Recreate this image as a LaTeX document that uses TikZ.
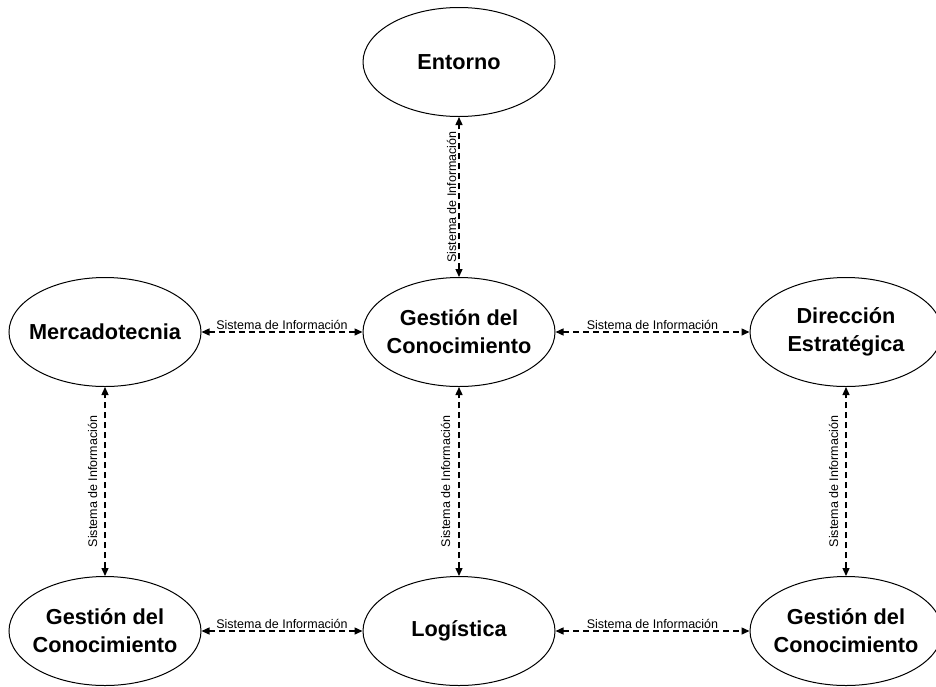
\documentclass[tikz,border=0pt]{standalone}
\usepackage{fontspec}
\setmainfont{Liberation Sans}
\usetikzlibrary{shapes.geometric,arrows.meta}
\begin{document}
\begin{tikzpicture}[x=1pt,y=-1pt,
  area/.style={draw, ellipse, line width=1pt, minimum width=192pt, minimum height=109pt,
    inner sep=0pt},
  areatitle/.style={align=center, inner sep=0pt,
    font=\fontsize{21.7pt}{28pt}\selectfont\bfseries},
  link/.style={draw, dashed, dash pattern=on 6pt off 4pt, line width=1.4pt,
    {Triangle[length=8pt,width=7pt]}-{Triangle[length=8pt,width=7pt]}},
  tag/.style={font=\fontsize{12.5pt}{14pt}\selectfont, inner sep=2pt}]
\useasboundingbox (0,0) rectangle (936,686);
% process areas: fixed-size ellipses with their titles set on top
\node[area] (ent) at (459,62) {};
\node[area] (mer) at (105,332) {};
\node[area] (gcm) at (459,332) {};
\node[area] (dir) at (846,332) {};
\node[area] (gcl) at (105,631) {};
\node[area] (log) at (459,631) {};
\node[area] (gcr) at (846,631) {};
\node[areatitle] (ent-t) at (ent) {Entorno};
\node[areatitle] (mer-t) at (mer) {Mercadotecnia};
\node[areatitle] (gcm-t) at (gcm) {Gestión del\\Conocimiento};
\node[areatitle] (dir-t) at (dir) {Dirección\\Estratégica};
\node[areatitle] (gcl-t) at (gcl) {Gestión del\\Conocimiento};
\node[areatitle] (log-t) at (log) {Logística};
\node[areatitle] (gcr-t) at (gcr) {Gestión del\\Conocimiento};
% information flows
\draw[link] (gcm) -- node[tag, sloped, above] (t1) {Sistema de Información} (ent);
\draw[link] (mer) -- node[tag, above] (t2) {Sistema de Información} (gcm);
\draw[link] (gcm) -- node[tag, above] (t3) {Sistema de Información} (dir);
\draw[link] (gcl) -- node[tag, sloped, above=5pt] (t4) {Sistema de Información} (mer);
\draw[link] (log) -- node[tag, sloped, above=6pt] (t5) {Sistema de Información} (gcm);
\draw[link] (gcr) -- node[tag, sloped, above=5pt] (t6) {Sistema de Información} (dir);
\draw[link] (gcl) -- node[tag, above] (t7) {Sistema de Información} (log);
\draw[link] (log) -- node[tag, above] (t8) {Sistema de Información} (gcr);
\end{tikzpicture}
\end{document}
